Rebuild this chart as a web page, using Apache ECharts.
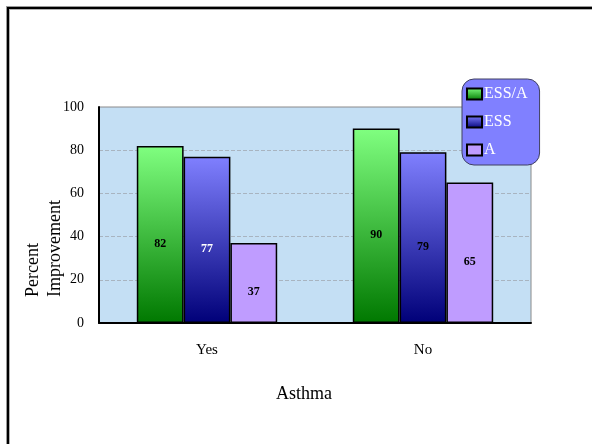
<!DOCTYPE html>
<html>
<head>
<meta charset="utf-8">
<style>
  html, body { margin: 0; padding: 0; background: #ffffff; }
  #chart { width: 592px; height: 444px; }
</style>
<script src="https://cdn.jsdelivr.net/npm/echarts@6/dist/echarts.min.js"></script>
</head>
<body>
<div id="chart"></div>
<script>
// Improvement by asthma status for the three treatment groups
const categories = ['Yes', 'No'];
const essA = [82, 90];
const ess = [77, 79];
const aOnly = [37, 65];
const yTicks = [0, 20, 40, 60, 80, 100];

const SERIF = '"Liberation Serif", "Times New Roman", serif';

function vGrad(top, bottom) {
  return new echarts.graphic.LinearGradient(0, 0, 0, 1, [
    { offset: 0, color: top },
    { offset: 1, color: bottom }
  ]);
}

const labelBase = {
  show: true,
  position: 'inside',
  offset: [0, 9],
  fontFamily: SERIF,
  fontWeight: 'bold',
  fontSize: 12,
  color: '#000000'
};

const barBorder = { borderColor: '#000000', borderWidth: 1.5 };

const chart = echarts.init(document.getElementById('chart'), null, { renderer: 'canvas' });

chart.setOption({
  animation: false,
  backgroundColor: '#ffffff',
  title: {
    text: 'Asthma',
    left: 271,
    top: 380,
    textStyle: { fontFamily: SERIF, fontSize: 18, fontWeight: 'normal', color: '#000000' }
  },
  legend: {
    orient: 'vertical',
    left: 462,
    top: 79,
    padding: [7, 12, 7, 4],
    itemGap: 12,
    itemWidth: 15,
    itemHeight: 11,
    icon: 'rect',
    backgroundColor: '#8080ff',
    borderColor: '#404060',
    borderWidth: 1,
    borderRadius: 12,
    textStyle: { fontFamily: SERIF, fontSize: 16, color: '#ffffff', padding: [0, 0, 0, -3] },
    data: ['ESS/A', 'ESS', 'A']
  },
  grid: {
    left: 99,
    right: 61,
    top: 107,
    bottom: 121,
    show: true,
    backgroundColor: '#c4dff4',
    borderColor: '#8a8a8a',
    borderWidth: 1
  },
  xAxis: {
    type: 'category',
    data: categories,
    axisLine: { lineStyle: { color: '#000000', width: 2 } },
    axisTick: { show: false },
    axisLabel: { margin: 20, fontFamily: SERIF, fontSize: 15, color: '#000000' }
  },
  yAxis: {
    type: 'value',
    min: yTicks[0],
    max: yTicks[yTicks.length - 1],
    interval: 20,
    axisLine: { show: true, lineStyle: { color: '#000000', width: 2 } },
    axisTick: { show: false },
    axisLabel: { margin: 15, fontFamily: SERIF, fontSize: 14, color: '#000000' },
    splitLine: { show: true, lineStyle: { color: '#a8b4c0', type: 'dashed', width: 1 } }
  },
  series: [
    {
      name: 'ESS/A',
      type: 'bar',
      barGap: '0%',
      barCategoryGap: '35%',
      itemStyle: Object.assign({ color: vGrad('#80ff80', '#007800') }, barBorder),
      label: labelBase,
      data: essA
    },
    {
      name: 'ESS',
      type: 'bar',
      itemStyle: Object.assign({ color: vGrad('#8080ff', '#000078') }, barBorder),
      label: labelBase,
      data: ess.map((v, i) => (i === 0 ? { value: v, label: { color: '#ffffff' } } : v))
    },
    {
      name: 'A',
      type: 'bar',
      itemStyle: Object.assign({ color: '#bf9cff' }, barBorder),
      label: labelBase,
      data: aOnly
    }
  ],
  graphic: [
    // page frame: top and left edges
    { type: 'rect', silent: true, shape: { x: 6, y: 6, width: 586, height: 1 }, style: { fill: '#9a9a9a' } },
    { type: 'rect', silent: true, shape: { x: 6, y: 6, width: 1, height: 438 }, style: { fill: '#9a9a9a' } },
    { type: 'rect', silent: true, shape: { x: 7, y: 7, width: 585, height: 2 }, style: { fill: '#000000' } },
    { type: 'rect', silent: true, shape: { x: 7, y: 7, width: 2, height: 437 }, style: { fill: '#000000' } },
    { type: 'rect', silent: true, shape: { x: 9, y: 9, width: 583, height: 1 }, style: { fill: '#b0b0b0' } },
    { type: 'rect', silent: true, shape: { x: 9, y: 9, width: 1, height: 435 }, style: { fill: '#b0b0b0' } },
    // y-axis title, two left-aligned lines reading upward
    {
      type: 'text',
      silent: true,
      x: 44,
      y: 297,
      rotation: Math.PI / 2,
      style: {
        text: 'Percent\nImprovement',
        fontFamily: SERIF,
        fontSize: 18,
        lineHeight: 22,
        fill: '#000000',
        align: 'left',
        verticalAlign: 'middle'
      }
    }
  ]
});
</script>
</body>
</html>
